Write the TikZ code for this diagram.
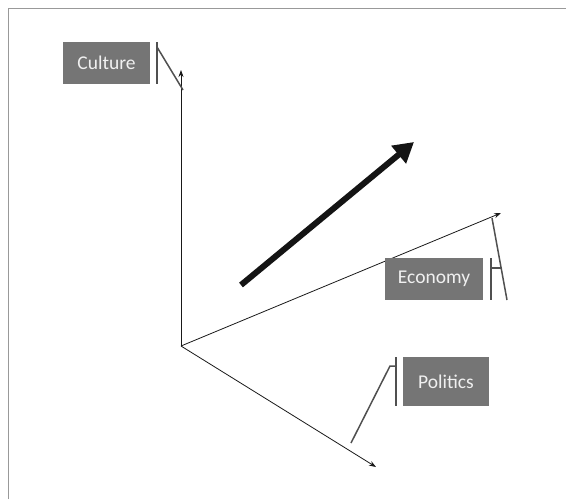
\documentclass[tikz,border=0pt]{standalone}
\usepackage{fontspec}
\setmainfont{Carlito}
\usetikzlibrary{arrows.meta}
\definecolor{boxgray}{HTML}{757575}
\definecolor{boxtext}{HTML}{F0F0F0}
\definecolor{framegray}{HTML}{999999}
\definecolor{callgray}{HTML}{505050}
\tikzset{
  labelbox/.style={fill=boxgray, text=boxtext, inner sep=0pt, font=\fontsize{19.5}{22}\selectfont},
  axis/.style={draw=black!90, line width=0.8pt, -{Stealth[length=7pt,width=5pt]}},
  callbar/.style={draw=callgray, line width=2pt},
  callline/.style={draw=callgray, line width=1.5pt},
  bigarrow/.style={draw=black!92, line width=6pt, -{Triangle[length=20pt,width=22pt]}},
  frameline/.style={draw=framegray, line width=1pt}
}
\begin{document}
\begin{tikzpicture}[x=1pt,y=-1pt]
\useasboundingbox (0,0) rectangle (566,499);
% frame
\coordinate (f1) at (8,499);
\coordinate (f2) at (8,8);
\coordinate (f3) at (566,8);
\draw[frameline] (f1) -- (f2) -- (f3);
% axes
\coordinate (O) at (181,346);
\coordinate (cEnd) at (181,70);
\coordinate (eEnd) at (501,213);
\coordinate (pEnd) at (376,467);
\draw[axis] (O) -- (cEnd);
\draw[axis] (O) -- (eEnd);
\draw[axis] (O) -- (pEnd);
% big arrow
\coordinate (bStart) at (241,285);
\coordinate (bEnd) at (414,142);
\draw[bigarrow] (bStart) -- (bEnd);
% boxes
\node[labelbox, minimum width=87pt, minimum height=42pt] (culture) at (106.5,63) {\raisebox{-2pt}{Culture}};
\node[labelbox, minimum width=98pt, minimum height=42pt] (economy) at (434,279) {\raisebox{-2pt}{Economy}};
\node[labelbox, minimum width=86pt, minimum height=49pt] (politics) at (446,381.5) {\raisebox{-1pt}{Politics}};
% culture callout
\coordinate (cb1) at (157,42);
\coordinate (cb2) at (157,84);
\coordinate (cl1) at (157,47);
\coordinate (cl2) at (183,90);
\draw[callbar] (cb1) -- (cb2);
\draw[callline] (cl1) -- (cl2);
% economy callout
\coordinate (eb1) at (491,258);
\coordinate (eb2) at (491,300);
\coordinate (eh1) at (491,268);
\coordinate (eh2) at (501,268);
\coordinate (el1) at (507,300);
\coordinate (el2) at (492,218);
\draw[callbar] (eb1) -- (eb2);
\draw[callline] (el1) -- (el2);
\draw[callline] (eh1) -- (eh2);
% politics callout
\coordinate (pb1) at (396,357);
\coordinate (pb2) at (396,406);
\coordinate (ph1) at (396,366);
\coordinate (ph2) at (390,366);
\coordinate (pl) at (351,443);
\draw[callbar] (pb1) -- (pb2);
\draw[callline] (ph1) -- (ph2) -- (pl);
\end{tikzpicture}
\end{document}
